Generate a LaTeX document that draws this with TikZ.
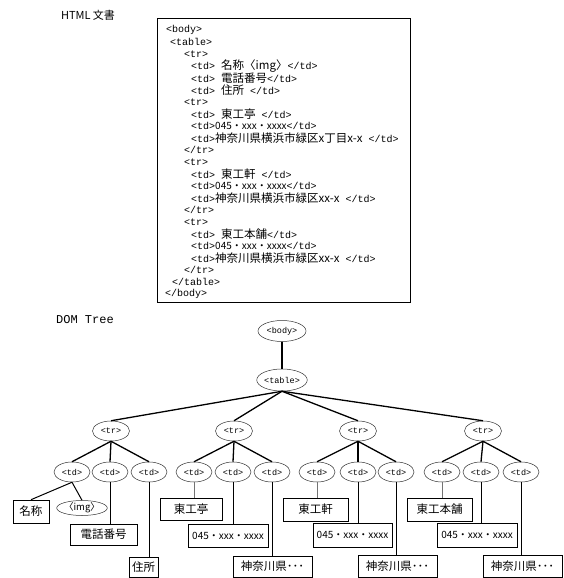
\documentclass[tikz,border=0pt]{standalone}
\usepackage{fontspec}
\setmonofont{Liberation Mono}
\newfontfamily\cjk{Noto Sans CJK JP}
\usetikzlibrary{shapes.geometric}
\newcommand{\jp}[1]{{\cjk\fontsize{11.5}{11.5}\selectfont #1}}
\newcommand{\jpnum}[1]{{\cjk\fontsize{10}{10}\selectfont #1}}
\tikzset{
	tag/.style={shape=ellipse,draw=black!80,line width=0.5pt,inner sep=0pt,minimum width=36pt,minimum height=20pt,font=\ttfamily\fontsize{8.5}{8.5}\selectfont},
	leaf/.style={shape=rectangle,draw=black,line width=0.6pt,inner sep=0pt,minimum height=22pt,font=\cjk\fontsize{11.5}{11.5}\selectfont},
	code/.style={anchor=west,inner sep=0pt,font=\ttfamily\fontsize{10}{10}\selectfont},
	branch/.style={line width=1.3pt},
	stem/.style={line width=1pt},
	thinstem/.style={line width=0.7pt,black!55},
}

\begin{document}
\begin{tikzpicture}[x=1pt,y=-1pt]
	
	\useasboundingbox (0,0) rectangle (563,578);
	
	\node[font=\cjk\fontsize{11}{11}\selectfont] (htmltitle) at (88,15) {HTML 文書};
	\draw[line width=0.7pt] (157,18) rectangle (410,302);
	\node[code] (l0)  at (166,30)  {<body>};
	\node[code] (l1)  at (170,42)  {<table>};
	\node[code] (l2)  at (184,54)  {<tr>};
	\node[code] (l3)  at (191,66)  {<td> \jp{名称〈img〉}</td>};
	\node[code] (l4)  at (191,78)  {<td> \jp{電話番号}</td>};
	\node[code] (l5)  at (191,90)  {<td> \jp{住所} </td>};
	\node[code] (l6)  at (184,102) {<tr>};
	\node[code] (l7)  at (191,114) {<td> \jp{東工亭} </td>};
	\node[code] (l8)  at (191,126) {<td>\jpnum{045・xxx・xxxx}</td>};
	\node[code] (l9)  at (191,138) {<td>\jp{神奈川県横浜市緑区x丁目x-x} </td>};
	\node[code] (l10) at (184,150) {</tr>};
	\node[code] (l11) at (184,162) {<tr>};
	\node[code] (l12) at (191,174) {<td> \jp{東工軒} </td>};
	\node[code] (l13) at (191,186) {<td>\jpnum{045・xxx・xxxx}</td>};
	\node[code] (l14) at (191,198) {<td>\jp{神奈川県横浜市緑区xx-x} </td>};
	\node[code] (l15) at (184,210) {</tr>};
	\node[code] (l16) at (184,222) {<tr>};
	\node[code] (l17) at (191,234) {<td> \jp{東工本舗}</td>};
	\node[code] (l18) at (191,246) {<td>\jpnum{045・xxx・xxxx}</td>};
	\node[code] (l19) at (191,258) {<td>\jp{神奈川県横浜市緑区xx-x} </td>};
	\node[code] (l20) at (184,270) {</tr>};
	\node[code] (l21) at (172,282) {</table>};
	\node[code] (l22) at (165,294) {</body>};
	
	\node[font=\ttfamily\fontsize{12}{12}\selectfont] (domtitle) at (85,320) {DOM Tree};
	
	\node[tag,minimum width=48pt,minimum height=21pt] (body)  at (282,331) {<body>};
	\node[tag,minimum width=48pt,minimum height=22pt] (table) at (282,380) {<table>};
	\node[tag,minimum width=37pt] (tr1) at (111,431) {<tr>};
	\node[tag,minimum width=37pt] (tr2) at (234,431) {<tr>};
	\node[tag,minimum width=37pt] (tr3) at (358,431) {<tr>};
	\node[tag,minimum width=37pt] (tr4) at (483,431) {<tr>};
	\node[tag] (td11) at (72,472)  {<td>};
	\node[tag] (td12) at (110,472) {<td>};
	\node[tag] (td13) at (149,472) {<td>};
	\node[tag] (td21) at (194,472) {<td>};
	\node[tag] (td22) at (233,472) {<td>};
	\node[tag] (td23) at (272,472) {<td>};
	\node[tag] (td31) at (317,472) {<td>};
	\node[tag] (td32) at (358,472) {<td>};
	\node[tag] (td33) at (396,472) {<td>};
	\node[tag] (td41) at (442,472) {<td>};
	\node[tag] (td42) at (481,472) {<td>};
	\node[tag] (td43) at (521,472) {<td>};
	
	\node[leaf,minimum width=36pt,minimum height=23pt] (name) at (31,511.5) {名称};
	\node[tag,minimum width=36pt,minimum height=15pt,font=\cjk\fontsize{9.5}{9.5}\selectfont] (img) at (82,508) {〈img〉};
	\node[leaf,minimum width=67pt,minimum height=21pt] (tel) at (103.5,534.5) {電話番号};
	\node[leaf,minimum width=29pt,minimum height=20pt] (addr) at (143.5,567) {住所};
	\node[leaf,minimum width=62pt] (shopa) at (191,509) {東工亭};
	\node[leaf,minimum width=80pt,minimum height=23pt,font=\cjk\fontsize{10}{10}\selectfont] (tela) at (228,535.5) {045・xxx・xxxx};
	\node[leaf,minimum width=79pt,minimum height=21pt] (addra) at (272.5,566.5) {神奈川県･･･};
	\node[leaf,minimum width=65pt,minimum height=23pt] (shopb) at (315.5,509.5) {東工軒};
	\node[leaf,minimum width=79pt,minimum height=24pt,font=\cjk\fontsize{10}{10}\selectfont] (telb) at (352.5,535) {045・xxx・xxxx};
	\node[leaf,minimum width=79pt] (addrb) at (397.5,566) {神奈川県･･･};
	\node[leaf,minimum width=65pt,minimum height=23pt] (shopc) at (439.5,509.5) {東工本舗};
	\node[leaf,minimum width=80pt,minimum height=24pt,font=\cjk\fontsize{10}{10}\selectfont] (telc) at (477,535) {045・xxx・xxxx};
	\node[leaf,minimum width=79pt] (addrc) at (522.5,566) {神奈川県･･･};
	
	\draw[branch] (body) -- (table);
	\draw[branch] (table.south) -- (tr1.north);
	\draw[branch] (table.south) -- (tr2.north);
	\draw[branch] (table.south) -- (tr3.north);
	\draw[branch] (table.south) -- (tr4.north);
	\foreach \t in {1,2,3,4}
		\foreach \d in {1,2,3}
			\draw[branch] (tr\t.south) -- (td\t\d.north);
	
	\draw[stem] (td11.south) -- (name.north);
	\draw[stem] (td11.south) -- (img.north);
	\draw[stem] (td12.south) -- (td12.south |- tel.north);
	\draw[stem] (td13.south) -- (td13.south |- addr.north);
	\draw[thinstem] (td21.south) -- (td21.south |- shopa.north);
	\draw[stem] (td22.south) -- (td22.south |- tela.north);
	\draw[stem] (td23.south) -- (td23.south |- addra.north);
	\draw[thinstem] (td31.south) -- (td31.south |- shopb.north);
	\draw[stem] (td32.south) -- (td32.south |- telb.north);
	\draw[stem] (td33.south) -- (td33.south |- addrb.north);
	\draw[thinstem] (td41.south) -- (td41.south |- shopc.north);
	\draw[stem] (td42.south) -- (td42.south |- telc.north);
	\draw[stem] (td43.south) -- (td43.south |- addrc.north);
	
\end{tikzpicture}
\end{document}
